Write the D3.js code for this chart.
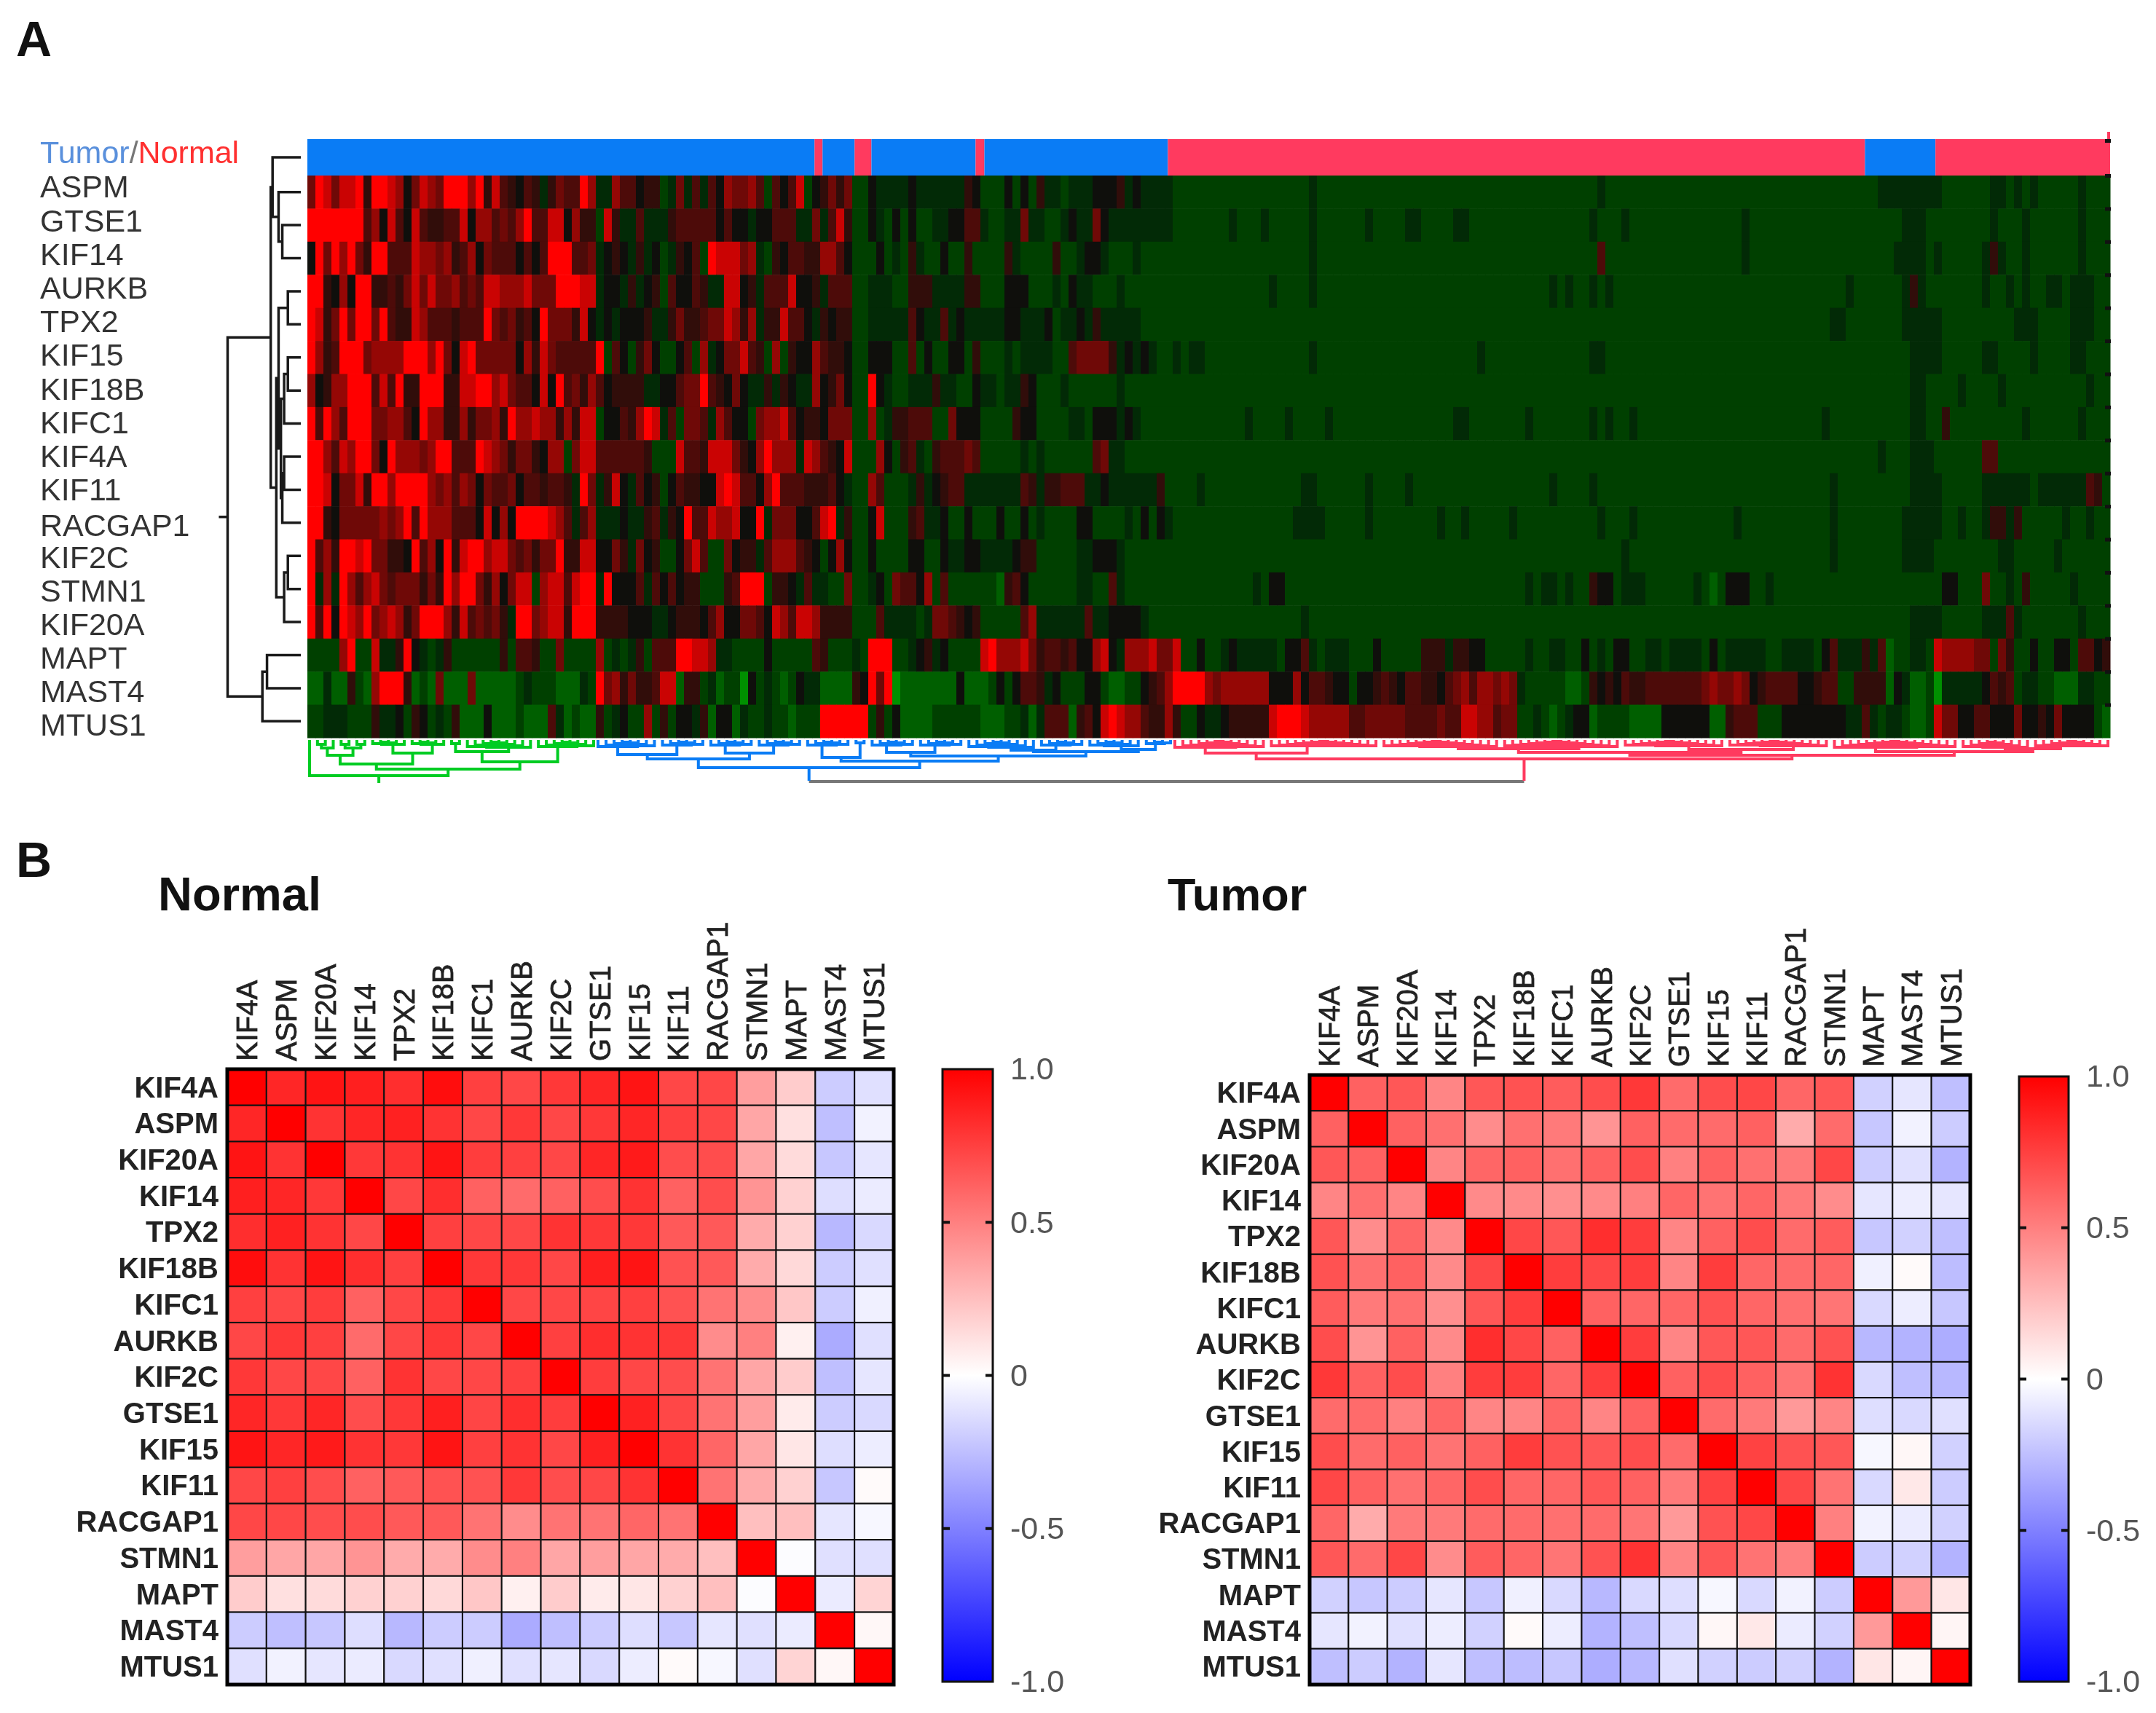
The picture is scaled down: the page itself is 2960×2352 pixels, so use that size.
<!DOCTYPE html>
<html>
<head>
<meta charset="utf-8">
<script src="https://cdnjs.cloudflare.com/ajax/libs/d3/7.8.5/d3.min.js"></script>
<style>
    html, body { margin: 0; padding: 0; background: #fff; }
    svg { display: block; filter: blur(0.7px); }
    text { font-family: "Liberation Sans", Arial, sans-serif; }
    .gene-axis path { display: none; }
</style>
</head>
<body>
<svg id="chart" width="2960" height="2352"></svg>
<script>
// panel A: genes in heatmap order
var heatGenes = ['ASPM', 'GTSE1', 'KIF14', 'AURKB', 'TPX2', 'KIF15', 'KIF18B', 'KIFC1', 'KIF4A', 'KIF11',
    'RACGAP1', 'KIF2C', 'STMN1', 'KIF20A', 'MAPT', 'MAST4', 'MTUS1'];

// panel A: one character per sample, expression level a (low) .. 9 (high)
var heatRows = [
    '6986889499 8736876999 7948543542 4655972275 5344126252 5376675153 5813464611 3222232222 2243111313 1422122233 3423222211 1111111111 1111121111 1111111111 1111111111 1111111111 1211111111 1111111111 1111111111 1111112222 2222111111 2212121111 12111',
    '9999999573 8538544558 3775657955 8837441842 2522245555 5353323355 5226258411 3213131122 3355211226 2211232263 2222222211 1111121112 1111121111 1121111221 1112211111 1111111111 2111211111 1111111112 1111111111 1111111112 2211111111 2111211111 12111',
    '3969796499 5558776745 7365553535 9995562343 2423124351 9888672143 5544775311 1312142113 1141111421 1114112332 1112111111 1111111111 1111121111 1111111111 1111111111 1111111111 1511111111 1111111112 1111111111 1111111122 2212111112 4211211111 12111',
    '9943739944 5468686675 6588777866 6999882332 4234153354 2288342555 8334255511 2221144422 2244111333 1112132211 1211111111 1111111111 2111121111 1111111111 1111111111 1111121211 2121111111 1111111111 1111111111 1121111112 4211111112 1121211221 22211',
    '9846969969 5448755545 5596564539 6664832323 3342246445 6687472448 5532434411 2222253225 2322222332 2231223242 2222111111 1111111111 1111111111 1111111111 1111111111 1111111111 1111111111 1111111111 1111111111 2211111112 2222111111 1112221111 22211',
    '9745999677 7799979638 9666663748 6555559153 1463113517 2366854171 4337544311 3331151311 3314111212 2221156666 4232321121 2211111111 1111121111 1111111111 1111112111 1111111111 2211111111 1111111111 1111111111 1111111111 2222111112 2111121111 22111',
    '7347799958 5944999448 8997865538 3956475344 4422335669 5436322424 3227346311 9321122242 2113221224 3111211111 1211111111 1111111111 1111111111 1111111111 1111111111 1111111111 1111111111 1111111111 1111111111 1111111111 2211112111 1211111111 11211',
    '9597599966 7753977447 4667497787 7474881335 4798251665 2753316778 5344366611 7124455511 6333111143 3111122133 3232111111 1111111211 1121111211 1111111111 1112211111 1121111111 2121121111 1111111111 1111111112 1111111111 2211411111 1111211111 12111',
    '9975879963 9777679955 5987646643 7716885555 5541118554 8886437977 7287543811 1731452145 5565111112 1211111156 2211111111 1111111111 1111111111 1111111111 1111111111 1111111111 1111111111 1111111111 1111111111 1111112111 2221111115 5111111111 11111',
    '9983668499 7999976757 6365563554 5542962483 2534135443 3898553795 5544453211 7511124234 5522222225 4244555223 2222224111 1211111111 1111221111 1121111211 1111111111 1111121111 2111111111 1111111111 1111111111 2111111111 2222111112 2222212222 22541',
    '9943666667 6795977755 5383739999 8752572223 2245243955 8778339266 6335892411 3811145223 1131113113 1211113311 1121313211 1111111111 1112222111 1121111111 1211211111 2111111111 1211121111 1111111121 1111111111 2111111112 2222112112 4424111112 11211',
    '9574998966 4439573948 9978865646 6944883364 2634113685 1163442577 7543137311 3111133113 2233222234 4111112233 3211111111 1111111111 1111111111 1111111111 1111111111 1111111111 1111211111 1111111111 1111111111 2111111112 2221111111 1221111121 11111',
    '9272975786 5666464979 9647368817 8858992933 3525353441 1145999144 3252211611 2316553715 1111110453 1111112211 5211111111 1111111121 3311111111 1111111111 1111111111 1121221211 4331222111 1112101333 1121111111 1111111111 1111331116 1121411111 21111',
    '9593987967 8746999748 5656429967 8849994444 3332234443 5733665387 5887444411 1522221266 5434111115 7222222522 3333211111 1111111111 1111211111 1111111111 1111111111 1111111111 1111111111 1111111111 1111111111 1111111111 2222111112 2252111111 12111',
    '1111791182 2493212411 1111415541 1611117121 2415559988 7221111311 1115411121 9991123423 1111897778 6455453378 3277786681 1311232222 2133521222 1113111114 4424433111 1121122113 1213311221 2222131222 2211222213 5222425011 2218777766 1641131133 15534',
    '0020041079 9940106000 6000001211 1000219674 6445880441 2011a31210 1322000043 969a000000 0300013135 5423111331 0011345799 9976777777 3337355433 1334543554 4356757767 6211111001 4343544555 5555676676 3455553345 5114444032 001a222223 5451221100 02211',
    '1122211142 2314312140 0030001000 5201004123 1171413324 0330211211 0111999999 1413000011 1111000112 0255504538 9877544741 1322344444 8999877777 5566666555 5655887756 6112101233 0111100003 3333300455 5111333333 3322521221 0018663355 3336334363 33310'
];
var heatLevelValues = { a: -1, 0: -0.62, 1: -0.38, 2: -0.16, 3: 0, 4: 0.14, 5: 0.26, 6: 0.4, 7: 0.56, 8: 0.78, 9: 1 };

// panel A: sample class bar, column edge where each run ends
var sampleRunEnds = [63.3, 64.3, 68.3, 70.4, 83.4, 84.5, 107.4, 194.4, 203.2, 225];
var sampleRunTypes = ['Tumor', 'Normal', 'Tumor', 'Normal', 'Tumor', 'Normal', 'Tumor', 'Normal', 'Tumor', 'Normal'];

// panel A: gene dendrogram, [height, child, child]
var geneTree = [1,
    [0.411,
        [0.386, 'Tumor/Normal', [0.304, 'ASPM', [0.253, 'GTSE1', 'KIF14']]],
        [0.335,
            [0.304,
                [0.177, 'AURKB', 'TPX2'],
                [0.272,
                    [0.228, [0.177, 'KIF15', 'KIF18B'], 'KIFC1'],
                    [0.253, [0.228, 'KIF4A', 'KIF11'], 'RACGAP1']]],
            [0.228, [0.177, 'KIF2C', 'STMN1'], 'KIF20A']]],
    [0.525, [0.462, 'MAPT', 'MAST4'], 'MTUS1']];

// panel A: sample dendrogram merge heights
var ladderShort = [3, 4, 5, 6, 7, 8, 9, 10];
var ladderMid = [2, 3, 4, 5, 5, 6, 7, 8, 8, 9, 10, 11];
var ladderLong = [2, 3, 3, 4, 4, 5, 5, 6, 6, 7, 7, 8, 8, 9, 10];

// panel B
var corrGenes = ['KIF4A', 'ASPM', 'KIF20A', 'KIF14', 'TPX2', 'KIF18B', 'KIFC1', 'AURKB', 'KIF2C', 'GTSE1',
    'KIF15', 'KIF11', 'RACGAP1', 'STMN1', 'MAPT', 'MAST4', 'MTUS1'];
var corrNormal = [
    [1, .85, .92, .88, .82, .95, .75, .72, .78, .85, .92, .72, .72, .38, .2, -.2, -.12],
    [.85, 1, .8, .85, .87, .8, .72, .78, .72, .78, .85, .75, .72, .35, .12, -.25, -.05],
    [.92, .8, 1, .78, .8, .92, .76, .75, .72, .85, .9, .7, .7, .35, .14, -.22, -.1],
    [.88, .85, .78, 1, .72, .82, .62, .58, .62, .7, .8, .62, .7, .42, .18, -.13, -.08],
    [.82, .87, .8, .72, 1, .75, .72, .72, .8, .78, .78, .65, .65, .33, .18, -.28, -.15],
    [.95, .8, .92, .82, .75, 1, .78, .78, .72, .88, .92, .68, .65, .33, .15, -.2, -.12],
    [.75, .72, .76, .62, .72, .78, 1, .72, .72, .73, .75, .68, .55, .45, .22, -.2, -.06],
    [.72, .78, .75, .58, .72, .78, .72, 1, .75, .82, .8, .78, .45, .5, .06, -.33, -.12],
    [.78, .72, .72, .62, .8, .72, .72, .75, 1, .76, .72, .7, .55, .35, .2, -.25, -.1],
    [.85, .78, .85, .7, .78, .88, .73, .82, .76, 1, .87, .72, .55, .38, .08, -.2, -.15],
    [.92, .85, .9, .8, .78, .92, .75, .8, .72, .87, 1, .8, .6, .35, .1, -.13, -.07],
    [.72, .75, .7, .62, .65, .68, .68, .78, .7, .72, .8, 1, .55, .33, .18, -.22, .02],
    [.72, .72, .7, .7, .65, .65, .55, .45, .55, .55, .6, .55, 1, .25, .25, -.1, -.03],
    [.38, .35, .35, .42, .33, .33, .45, .5, .35, .38, .35, .33, .25, 1, -.01, -.12, -.12],
    [.2, .12, .14, .18, .18, .15, .22, .06, .2, .08, .1, .18, .25, -.01, 1, -.08, .17],
    [-.2, -.25, -.22, -.13, -.28, -.2, -.2, -.33, -.25, -.2, -.13, -.22, -.1, -.12, -.08, 1, .03],
    [-.12, -.05, -.1, -.08, -.15, -.12, -.06, -.12, -.1, -.15, -.07, .02, -.03, -.12, .17, .03, 1]
];
var corrTumor = [
    [1, .62, .66, .48, .66, .68, .64, .7, .78, .58, .7, .72, .6, .66, -.18, -.1, -.25],
    [.62, 1, .62, .56, .45, .56, .52, .42, .62, .58, .58, .62, .33, .58, -.22, -.05, -.2],
    [.66, .62, 1, .48, .6, .62, .56, .62, .7, .5, .62, .56, .52, .72, -.2, -.12, -.3],
    [.48, .56, .48, 1, .46, .46, .44, .46, .5, .6, .55, .6, .52, .45, -.1, -.07, -.1],
    [.66, .45, .6, .46, 1, .72, .66, .82, .76, .48, .62, .7, .58, .64, -.22, -.18, -.25],
    [.68, .56, .62, .46, .72, 1, .76, .72, .76, .48, .76, .6, .58, .6, -.06, .02, -.26],
    [.64, .52, .56, .44, .66, .76, 1, .62, .6, .6, .68, .6, .56, .54, -.15, -.07, -.22],
    [.7, .42, .62, .46, .82, .72, .62, 1, .76, .48, .66, .66, .58, .68, -.28, -.3, -.32],
    [.78, .62, .7, .5, .76, .76, .6, .76, 1, .62, .7, .62, .54, .8, -.15, -.25, -.28],
    [.58, .58, .5, .6, .48, .48, .6, .48, .62, 1, .58, .52, .4, .48, -.13, -.15, -.12],
    [.7, .58, .62, .55, .62, .76, .68, .66, .7, .58, 1, .74, .68, .66, -.03, .03, -.18],
    [.72, .62, .56, .6, .7, .6, .6, .66, .62, .52, .74, 1, .72, .55, -.15, .09, -.2],
    [.6, .33, .52, .52, .58, .58, .56, .58, .54, .4, .68, .72, 1, .5, -.05, -.08, -.18],
    [.66, .58, .72, .45, .64, .6, .54, .68, .8, .48, .66, .55, .5, 1, -.2, -.18, -.3],
    [-.18, -.22, -.2, -.1, -.22, -.06, -.15, -.28, -.15, -.13, -.03, -.15, -.05, -.2, 1, .4, .1],
    [-.1, -.05, -.12, -.07, -.18, .02, -.07, -.3, -.25, -.15, .03, .09, -.08, -.18, .4, 1, .04],
    [-.25, -.2, -.3, -.1, -.25, -.26, -.22, -.32, -.28, -.12, -.18, -.2, -.18, -.3, .1, .04, 1]
];
var colorbarTicks = [1, 0.5, 0, -0.5, -1];


var svg = d3.select('#chart'),
    cols = d3.range(225),
    classColor = { Tumor: '#0a7cf5', Normal: '#ff3a5f' },
    heatColor = d3.scaleLinear()
        .domain([-1, -0.38, -0.16, 0, 1])
        .range(['#009000', '#004000', '#022a06', '#0f0f0c', '#ff0000']),
    corrColor = d3.scaleLinear().domain([-1, 0, 1]).range(['#0000ff', '#ffffff', '#ff0000']),
    xCol = d3.scaleBand().domain(cols).range([422, 2897]),
    xEdge = d3.scaleLinear().domain([0, 225]).range([422, 2897]),
    yGene = d3.scaleBand().domain(heatGenes).range([241, 1013]);


// alternating ladder of single samples, so a cluster's stem stays near its middle
function ladder(heights) {
    return heights.slice(1).reduce(function(node, h, i) {
        return i % 2 ? [h, 1, node] : [h, node, 1];
    }, [heights[0], 1, 1]);
}

function countLeaves(node) {
    return node === 1 ? 1 : countLeaves(node[1]) + countLeaves(node[2]);
}

var greenTree = [49, 1,
    [40,
        [33,
            [21, [11, [6, 1, 1], 1], [11, [6, 1, 1], [6, 1, 1]]],
            [18, ladder(ladderShort.slice(0, 4)), ladder(ladderShort.slice(0, 4))]],
        [30,
            [16, [5, 1, 1], ladder(ladderShort)],
            ladder(ladderShort.slice(0, 7))]]];

var blueTree = [38,
    [26,
        [20, ladder(ladderShort.slice(0, 7)), ladder(ladderShort.slice(0, 5))],
        [18, ladder(ladderShort.slice(0, 5)), ladder(ladderShort.slice(0, 5))]],
    [29,
        [24, ladder(ladderShort.slice(0, 5)), [4, 1, 1]],
        [22,
            [17, ladder(ladderShort.slice(0, 5)), ladder(ladderShort.slice(0, 5))],
            [16,
                [14, ladder(ladderShort), ladder(ladderShort.slice(0, 5))],
                [13, ladder(ladderShort.slice(0, 6)), ladder(ladderShort.slice(0, 3))]]]]];

var redTree = [26,
    [18, ladder(ladderMid.slice(0, 11)), ladder(ladderLong.slice(0, 13))],
    [21,
        [17,
            [12, ladder(ladderLong.slice(0, 14)), ladder(ladderLong.slice(0, 14))],
            [13, ladder(ladderLong.slice(0, 12)), ladder(ladderLong.slice(0, 12))]],
        [16,
            ladder(ladderLong),
            [12, ladder(ladderShort), ladder(ladderMid.slice(0, 9))]]]];


// draw the class bar
//
var runs = sampleRunEnds.map(function(end, i) {
    return { start: i ? sampleRunEnds[i - 1] : 0, end: end, type: sampleRunTypes[i] };
});
svg.append('g').selectAll('rect').data(runs).enter().append('rect')
    .attr('x', function(d) { return xEdge(d.start); })
    .attr('y', 191)
    .attr('width', function(d) { return xEdge(d.end) - xEdge(d.start); })
    .attr('height', 50)
    .attr('fill', function(d) { return classColor[d.type]; });


// draw the expression heatmap
//
var heatCells = [];
heatRows.forEach(function(row, r) {
    row.replace(/ /g, '').split('').forEach(function(ch, c) {
        heatCells.push({ gene: heatGenes[r], col: c, value: heatLevelValues[ch] });
    });
});
svg.append('g').selectAll('rect').data(heatCells).enter().append('rect')
    .attr('x', function(d) { return xCol(d.col); })
    .attr('y', function(d) { return yGene(d.gene); })
    .attr('width', xCol.bandwidth() + 0.5)
    .attr('height', yGene.bandwidth() + 0.5)
    .attr('fill', function(d) { return heatColor(d.value); });

// small marks along the right edge, one per row
svg.append('g').selectAll('rect').data(['Tumor/Normal'].concat(heatGenes)).enter().append('rect')
    .attr('x', 2890)
    .attr('y', function(d, i) { return i ? yGene(d) - 2 : 191; })
    .attr('width', 8)
    .attr('height', 5)
    .attr('fill', '#111');
svg.append('rect').attr('x', 2893).attr('y', 181).attr('width', 4).attr('height', 10).attr('fill', '#ff3a5f');


// gene labels
//
var geneLabelY = d3.scalePoint().domain(heatGenes).range([256, 995]);
svg.append('g').selectAll('text').data(heatGenes).enter().append('text')
    .attr('x', 55)
    .attr('y', function(d) { return geneLabelY(d) + (d === 'RACGAP1' ? 3 : 0); })
    .attr('dy', '0.36em')
    .attr('font-size', 43)
    .attr('fill', '#333')
    .text(function(d) { return d; });

var classLabel = svg.append('text').attr('x', 55).attr('y', 209).attr('dy', '0.36em').attr('font-size', 43);
classLabel.append('tspan').attr('fill', '#5a90dc').text('Tumor');
classLabel.append('tspan').attr('fill', '#777').text('/');
classLabel.append('tspan').attr('fill', '#ff3030').text('Normal');


// gene dendrogram
//
var xGeneTree = d3.scaleLinear().domain([0, 1]).range([413, 312.5]),
    geneTreeG = svg.append('g').attr('fill', 'none').attr('stroke', '#1a1a1a').attr('stroke-width', 3.5);

function drawGeneTree(node) {
    if (typeof node === 'string') {
        return { y: node === 'Tumor/Normal' ? 216 : yGene(node) + yGene.bandwidth() / 2, h: 0 };
    }
    var a = drawGeneTree(node[1]),
        b = drawGeneTree(node[2]);
    geneTreeG.append('path').attr('d',
        'M' + xGeneTree(a.h) + ',' + a.y +
        ' H' + xGeneTree(node[0]) +
        ' V' + b.y +
        ' H' + xGeneTree(b.h));
    return { y: (a.y + b.y) / 2, h: node[0] };
}
var geneRoot = drawGeneTree(geneTree);
geneTreeG.append('path').attr('d',
    'M' + xGeneTree(geneRoot.h) + ',' + geneRoot.y + ' H' + xGeneTree(1.12));


// sample dendrograms, leaves are spread evenly over the columns of each cluster
//
var yTree = d3.scaleLinear().domain([0, 60]).range([1016, 1076]),
    sampleTreeG = svg.append('g').attr('fill', 'none').attr('stroke-width', 4);

function drawSampleTree(tree, startCol, endCol, color) {
    var n = countLeaves(tree),
        xLeaf = d3.scaleLinear().domain([0, n - 1])
            .range([xCol(startCol) + 3, xCol(endCol - 1) + xCol.bandwidth() - 3]),
        next = 0;

    function walk(node) {
        if (node === 1) { return { x: xLeaf(next++), h: 0 }; }
        var a = walk(node[1]),
            b = walk(node[2]);
        sampleTreeG.append('path').attr('stroke', color).attr('d',
            'M' + a.x + ',' + yTree(a.h) +
            ' V' + yTree(node[0]) +
            ' H' + b.x +
            ' V' + yTree(b.h));
        return { x: (a.x + b.x) / 2, h: node[0] };
    }
    return walk(tree);
}

var greenRoot = drawSampleTree(greenTree, 0, 36, '#00cc22'),
    blueRoot = drawSampleTree(blueTree, 36, 108, classColor.Tumor),
    redRoot = drawSampleTree(redTree, 108, 225, classColor.Normal);

sampleTreeG.append('path').attr('stroke', '#00cc22')
    .attr('d', 'M' + greenRoot.x + ',' + yTree(greenRoot.h) + ' V' + yTree(59));
sampleTreeG.append('path').attr('stroke', '#777')
    .attr('d', 'M' + blueRoot.x + ',' + yTree(57) + ' H' + redRoot.x);
sampleTreeG.append('path').attr('stroke', classColor.Tumor)
    .attr('d', 'M' + blueRoot.x + ',' + yTree(blueRoot.h) + ' V' + yTree(56));
sampleTreeG.append('path').attr('stroke', classColor.Normal)
    .attr('d', 'M' + redRoot.x + ',' + yTree(redRoot.h) + ' V' + yTree(56));


// panel letters
//
svg.append('text').attr('x', 22).attr('y', 77).attr('font-size', 68).attr('font-weight', 'bold').attr('fill', '#111').text('A');
svg.append('text').attr('x', 22).attr('y', 1204).attr('font-size', 68).attr('font-weight', 'bold').attr('fill', '#111').text('B');


// correlation panels
//
var gradient = svg.append('defs').append('linearGradient')
    .attr('id', 'corrGradient')
    .attr('x1', 0).attr('y1', 1).attr('x2', 0).attr('y2', 0);
d3.range(-1, 1.01, 0.25).forEach(function(v) {
    gradient.append('stop')
        .attr('offset', (v + 1) / 2)
        .attr('stop-color', corrColor(v));
});

function drawCorrPanel(opts) {
    var xBand = d3.scaleBand().domain(corrGenes).range([opts.left, opts.right]),
        yBand = d3.scaleBand().domain(corrGenes).range([opts.top, opts.bottom]),
        yBar = d3.scaleLinear().domain([-1, 1]).range([opts.barBottom, opts.barTop]),
        g = svg.append('g'),
        cells = [];

    opts.values.forEach(function(row, r) {
        row.forEach(function(v, c) {
            cells.push({ rowGene: corrGenes[r], colGene: corrGenes[c], value: v });
        });
    });

    g.append('text')
        .attr('x', opts.titleX)
        .attr('y', 1250)
        .attr('font-size', opts.titleSize)
        .attr('font-weight', 'bold')
        .attr('fill', '#111')
        .text(opts.title);

    g.append('g').selectAll('rect').data(cells).enter().append('rect')
        .attr('x', function(d) { return xBand(d.colGene); })
        .attr('y', function(d) { return yBand(d.rowGene); })
        .attr('width', xBand.bandwidth())
        .attr('height', yBand.bandwidth())
        .attr('fill', function(d) { return corrColor(d.value); })
        .attr('stroke', '#111')
        .attr('stroke-width', 2);

    g.append('rect')
        .attr('x', opts.left).attr('y', opts.top)
        .attr('width', opts.right - opts.left).attr('height', opts.bottom - opts.top)
        .attr('fill', 'none').attr('stroke', '#000').attr('stroke-width', 5);

    g.append('g')
        .attr('class', 'gene-axis')
        .attr('transform', 'translate(' + (opts.left - 12) + ',1)')
        .call(d3.axisLeft(yBand).tickSize(0).tickPadding(0))
        .selectAll('text')
        .attr('font-size', 40)
        .attr('font-weight', 'bold')
        .attr('fill', '#222');

    g.append('g')
        .attr('class', 'gene-axis')
        .attr('transform', 'translate(0,' + (opts.top - 11) + ')')
        .call(d3.axisTop(xBand).tickSize(0).tickPadding(0))
        .selectAll('text')
        .attr('font-size', 40)
        .attr('fill', '#222')
        .attr('stroke', '#222')
        .attr('stroke-width', 0.8)
        .attr('text-anchor', 'start')
        .attr('dy', '0.36em')
        .attr('transform', 'rotate(-90)');

    // colorbar
    g.append('rect')
        .attr('x', opts.barLeft).attr('y', opts.barTop)
        .attr('width', opts.barWidth).attr('height', opts.barBottom - opts.barTop)
        .attr('fill', 'url(#corrGradient)')
        .attr('stroke', '#111').attr('stroke-width', 3);

    g.append('g').selectAll('path').data(colorbarTicks.slice(1, 4)).enter().append('path')
        .attr('stroke', '#111').attr('stroke-width', 4)
        .attr('d', function(d) {
            var y = yBar(d);
            return 'M' + opts.barLeft + ',' + y + ' h10 M' + (opts.barLeft + opts.barWidth) + ',' + y + ' h-10';
        });

    g.append('g')
        .attr('class', 'gene-axis')
        .attr('transform', 'translate(' + (opts.barLeft + opts.barWidth + 24) + ',0)')
        .call(d3.axisRight(yBar).tickValues(colorbarTicks).tickSize(0).tickPadding(0)
            .tickFormat(function(d) { return d === 0 ? '0' : d.toFixed(1); }))
        .selectAll('text')
        .attr('font-size', 43)
        .attr('fill', '#555');
}

drawCorrPanel({
    title: 'Normal', titleX: 217, titleSize: 65, values: corrNormal,
    left: 312, right: 1227, top: 1468, bottom: 2313,
    barLeft: 1294, barWidth: 69, barTop: 1468, barBottom: 2309
});
drawCorrPanel({
    title: 'Tumor', titleX: 1603, titleSize: 63, values: corrTumor,
    left: 1798, right: 2705, top: 1476, bottom: 2313,
    barLeft: 2772, barWidth: 68, barTop: 1478, barBottom: 2309
});
</script>
</body>
</html>
